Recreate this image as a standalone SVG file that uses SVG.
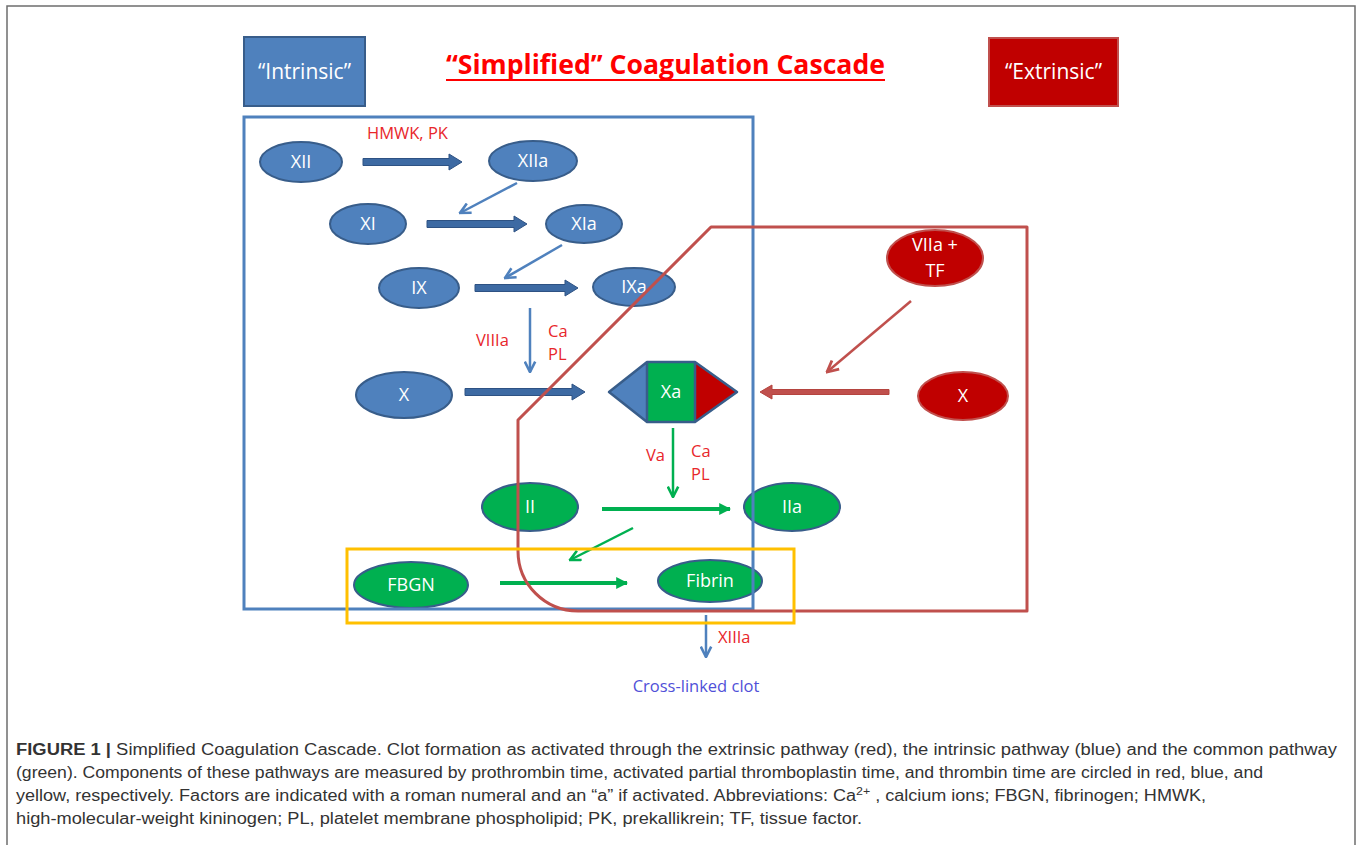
<svg xmlns="http://www.w3.org/2000/svg" width="1357" height="845" viewBox="0 0 1357 845">
<style>
.bg{fill:#ffffff}
.frame{fill:none;stroke:#6e6e6e;stroke-width:1.5}
.nb{fill:#4f81bd;stroke:#385d8a;stroke-width:2}
.ng{fill:#00b050;stroke:#385d8a;stroke-width:2}
.nr{fill:#c00000;stroke:#c0504d;stroke-width:2}
.lbl{font-family:"Open Sans","Liberation Sans",sans-serif;font-size:18px;fill:#ffffff;text-anchor:middle}
.rt{font-family:"Open Sans","Liberation Sans",sans-serif;font-size:16.5px;fill:#e8262b}
.blk{fill:#3d6aa3;stroke:#2e5283;stroke-width:1}
.tb{fill:none;stroke:#4f81bd;stroke-width:2.5}
.tr{fill:none;stroke:#c0504d;stroke-width:2.5}
.tg{fill:none;stroke:#00b050;stroke-width:2.5}
.tg4{fill:none;stroke:#00b050;stroke-width:4}
.cap{font-family:"Liberation Sans",Arial,sans-serif;font-size:16px;fill:#333333}
</style>
<defs>
<marker id="mb" viewBox="0 0 10 10" refX="9" refY="5" markerWidth="13" markerHeight="13" markerUnits="userSpaceOnUse" orient="auto"><path d="M1,1 L9,5 L1,9" fill="none" stroke="#4f81bd" stroke-width="2"/></marker>
<marker id="mr" viewBox="0 0 10 10" refX="9" refY="5" markerWidth="14" markerHeight="14" markerUnits="userSpaceOnUse" orient="auto"><path d="M1,1 L9,5 L1,9" fill="none" stroke="#c0504d" stroke-width="2"/></marker>
<marker id="mg" viewBox="0 0 10 10" refX="9" refY="5" markerWidth="13" markerHeight="13" markerUnits="userSpaceOnUse" orient="auto"><path d="M1,1 L9,5 L1,9" fill="none" stroke="#00b050" stroke-width="2"/></marker>
<marker id="mgf" viewBox="0 0 10 10" refX="9" refY="5" markerWidth="12" markerHeight="12" markerUnits="userSpaceOnUse" orient="auto"><path d="M0,0 L10,5 L0,10 Z" fill="#00b050"/></marker>
</defs>
<rect class="bg" x="0" y="0" width="1357" height="845"/>
<path class="frame" d="M7,846 L7,6 L1355,6 L1355,846"/>

<!-- header boxes and title -->
<g id="intrinsic-label">
<rect x="244" y="37" width="121" height="69" fill="#4f81bd" stroke="#385d8a" stroke-width="2"/>
<text x="304.5" y="79" font-family="Open Sans, Liberation Sans, sans-serif" font-size="21" fill="#ffffff" text-anchor="middle">“Intrinsic”</text>
</g>
<g id="title">
<text x="665.5" y="74" font-family="Open Sans, Liberation Sans, sans-serif" font-size="26" font-weight="bold" fill="#ff0000" text-anchor="middle" textLength="439" lengthAdjust="spacingAndGlyphs">“Simplified” Coagulation Cascade</text>
<line x1="446" y1="80" x2="885" y2="80" stroke="#ff0000" stroke-width="2"/>
</g>
<g id="extrinsic-label">
<rect x="989" y="38" width="129" height="68" fill="#c00000" stroke="#c0504d" stroke-width="2"/>
<text x="1053.5" y="79" font-family="Open Sans, Liberation Sans, sans-serif" font-size="21" fill="#ffffff" text-anchor="middle">“Extrinsic”</text>
</g>

<!-- connectors -->
<g id="connectors">
<path class="blk" d="M363,158.5 L449,158.5 L449,154 L462,162 L449,170 L449,165.5 L363,165.5 Z"/>
<path class="blk" d="M427,220.5 L514,220.5 L514,216 L527,224 L514,232 L514,227.5 L427,227.5 Z"/>
<path class="blk" d="M475,284.5 L565,284.5 L565,280 L578,288 L565,296 L565,291.5 L475,291.5 Z"/>
<path class="blk" d="M465,388.5 L572,388.5 L572,384 L585,392 L572,400 L572,395.5 L465,395.5 Z"/>
<path d="M889,389.5 L772,389.5 L772,385 L760,392 L772,399 L772,394.5 L889,394.5 Z" fill="#c0504d" stroke="#b5443f" stroke-width="1"/>
<line class="tb" x1="517" y1="183" x2="460" y2="213" marker-end="url(#mb)"/>
<line class="tb" x1="562" y1="245" x2="505" y2="278" marker-end="url(#mb)"/>
<line class="tb" x1="530" y1="308" x2="530" y2="372" marker-end="url(#mb)"/>
<line class="tr" x1="911" y1="301" x2="827" y2="372" marker-end="url(#mr)"/>
<line class="tg" x1="673" y1="428" x2="673" y2="497" marker-end="url(#mg)"/>
<line class="tg4" x1="602" y1="509" x2="730" y2="509" marker-end="url(#mgf)"/>
<line class="tg" x1="633" y1="528" x2="570" y2="560" marker-end="url(#mg)"/>
<line class="tg4" x1="500" y1="583" x2="627" y2="583" marker-end="url(#mgf)"/>
<line class="tb" x1="706" y1="615" x2="706" y2="657" marker-end="url(#mb)"/>
<text class="rt" x="367" y="139">HMWK, PK</text>
<text class="rt" x="476" y="346">VIIIa</text>
<text class="rt" x="548" y="337">Ca</text>
<text class="rt" x="548" y="360">PL</text>
<text class="rt" x="646" y="461">Va</text>
<text class="rt" x="691" y="457">Ca</text>
<text class="rt" x="691" y="480">PL</text>
<text class="rt" x="718" y="643">XIIIa</text>
</g>

<!-- nodes -->
<g id="node-XII"><ellipse class="nb" cx="301" cy="162" rx="41" ry="20"/><text class="lbl" x="301" y="168">XII</text></g>
<g id="node-XIIa"><ellipse class="nb" cx="533" cy="161" rx="44" ry="20"/><text class="lbl" x="533" y="167">XIIa</text></g>
<g id="node-XI"><ellipse class="nb" cx="368" cy="224" rx="38" ry="20"/><text class="lbl" x="368" y="230">XI</text></g>
<g id="node-XIa"><ellipse class="nb" cx="584" cy="224" rx="38" ry="19"/><text class="lbl" x="584" y="230">XIa</text></g>
<g id="node-IX"><ellipse class="nb" cx="419" cy="288" rx="40" ry="20"/><text class="lbl" x="419" y="294">IX</text></g>
<g id="node-IXa"><ellipse class="nb" cx="634" cy="287" rx="41" ry="19"/><text class="lbl" x="634" y="293">IXa</text></g>
<g id="node-X-intrinsic"><ellipse class="nb" cx="404" cy="395" rx="48" ry="23"/><text class="lbl" x="404" y="401">X</text></g>
<g id="node-Xa">
<path d="M647,362 L609,392 L647,422 Z" fill="#4f81bd"/>
<rect x="647" y="362" width="48" height="60" fill="#00b050"/>
<path d="M695,362 L737,392 L695,422 Z" fill="#c00000"/>
<path d="M647,362 L695,362 L737,392 L695,422 L647,422 L609,392 Z M647,362 L647,422 M695,362 L695,422" fill="none" stroke="#385d8a" stroke-width="2.5" stroke-linejoin="round"/>
<text class="lbl" x="671" y="398">Xa</text>
</g>
<g id="node-VIIa-TF"><ellipse class="nr" cx="935" cy="258" rx="48" ry="28"/><text class="lbl" x="935" y="251">VIIa +</text><text class="lbl" x="935" y="277">TF</text></g>
<g id="node-X-extrinsic"><ellipse class="nr" cx="963" cy="396" rx="45" ry="24"/><text class="lbl" x="963" y="402">X</text></g>
<g id="node-II"><ellipse class="ng" cx="530" cy="507" rx="48" ry="24"/><text class="lbl" x="530" y="513">II</text></g>
<g id="node-IIa"><ellipse class="ng" cx="792" cy="507" rx="48" ry="24"/><text class="lbl" x="792" y="513">IIa</text></g>
<g id="node-FBGN"><ellipse class="ng" cx="411" cy="585" rx="57" ry="23"/><text class="lbl" x="411" y="591">FBGN</text></g>
<g id="node-Fibrin"><ellipse class="ng" cx="710" cy="581" rx="52" ry="21"/><text class="lbl" x="710" y="587">Fibrin</text></g>
<g id="node-clot"><text x="696" y="692" font-family="Open Sans, Liberation Sans, sans-serif" font-size="16.5" fill="#5050d8" text-anchor="middle">Cross-linked clot</text></g>

<!-- pathway outlines -->
<g id="regions">
<rect x="244" y="117" width="509" height="492" fill="none" stroke="#4f81bd" stroke-width="3"/>
<path d="M711,227 L1027,227 L1027,611 L578,611 A60,60 0 0 1 518,551 L518,420 Z" fill="none" stroke="#c0504d" stroke-width="3" stroke-linejoin="round"/>
<rect x="347" y="549" width="447" height="74" fill="none" stroke="#ffc000" stroke-width="3"/>
</g>

<!-- caption -->
<g id="caption">
<text class="cap" x="16" y="755" textLength="1321" lengthAdjust="spacingAndGlyphs"><tspan font-weight="bold">FIGURE 1 |</tspan> Simplified Coagulation Cascade. Clot formation as activated through the extrinsic pathway (red), the intrinsic pathway (blue) and the common pathway</text>
<text class="cap" x="16" y="778" textLength="1247" lengthAdjust="spacingAndGlyphs">(green). Components of these pathways are measured by prothrombin time, activated partial thromboplastin time, and thrombin time are circled in red, blue, and</text>
<text class="cap" x="16" y="801" textLength="1190" lengthAdjust="spacingAndGlyphs">yellow, respectively. Factors are indicated with a roman numeral and an “a” if activated. Abbreviations: Ca<tspan font-size="11" dy="-6">2+</tspan><tspan dy="6"> , calcium ions; FBGN, fibrinogen; HMWK,</tspan></text>
<text class="cap" x="16" y="824" textLength="846" lengthAdjust="spacingAndGlyphs">high-molecular-weight kininogen; PL, platelet membrane phospholipid; PK, prekallikrein; TF, tissue factor.</text>
</g>
</svg>
